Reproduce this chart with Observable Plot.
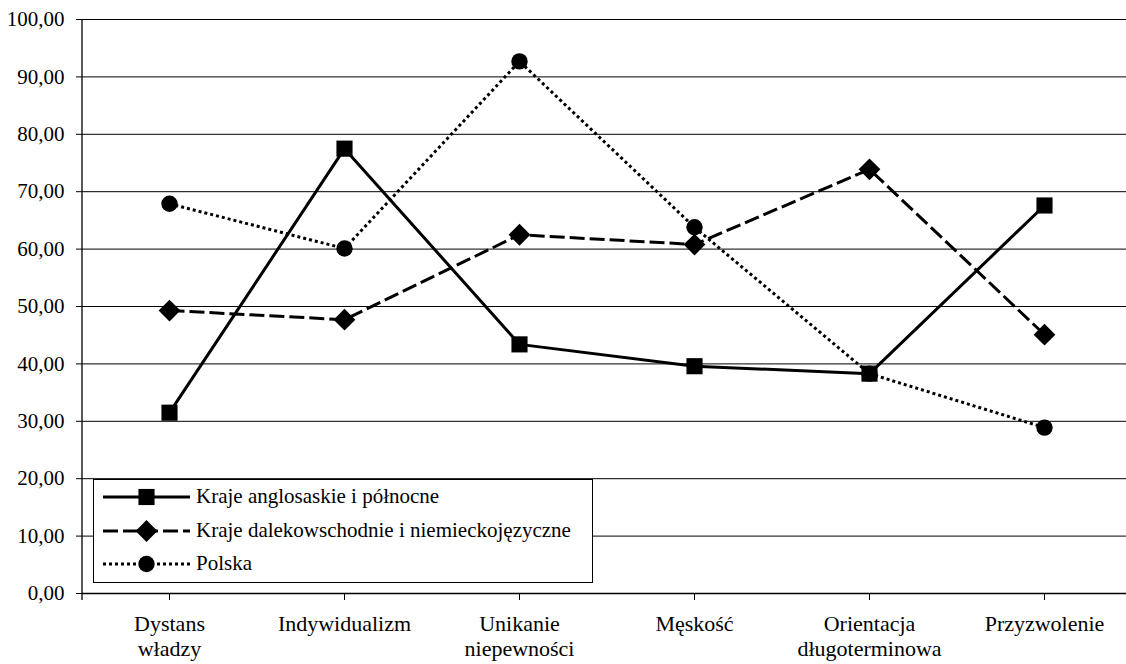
<!DOCTYPE html>
<html><head><meta charset="utf-8">
<script src="https://cdn.jsdelivr.net/npm/d3@7"></script>
<script src="https://cdn.jsdelivr.net/npm/@observablehq/plot@0.6"></script>
<style>
body{margin:0;background:#fff}
#wrap{position:relative;width:1126px;height:664px;font-family:"Liberation Serif","DejaVu Serif",serif}
#wrap svg text{font-family:"Liberation Serif","DejaVu Serif",serif}
#legend{position:absolute;left:93px;top:479px;width:500px;height:104px;border:1px solid #000;background:#fff;box-sizing:border-box}
.row{position:absolute;left:0;height:34px;width:100%}
.row svg{position:absolute;left:9px;top:0}
.row span{position:absolute;left:102px;top:4px;font-size:21px;line-height:24px;color:#000;white-space:nowrap;font-family:"Liberation Serif","DejaVu Serif",serif}
</style></head>
<body><div id="wrap"></div>
<script>
const categories = ["Dystans\nwładzy","Indywidualizm","Unikanie\nniepewności","Męskość","Orientacja\ndługoterminowa","Przyzwolenie"];
const seriesNames = ["Kraje anglosaskie i północne","Kraje dalekowschodnie i niemieckojęzyczne","Polska"];
const anglo  = [31.5,77.5,43.4,39.6,38.3,67.6];
const east   = [49.3,47.7,62.5,60.8,73.9,45.1];
const polska = [67.9,60.1,92.7,63.8,38.3,28.9];
const yTicks = [0,10,20,30,40,50,60,70,80,90,100];

const styles = [
  {values: anglo,  dash: null,   symbol: "square",   r: 9.1},
  {values: east,   dash: "15,5", symbol: "diamond2", r: 9.8},
  {values: polska, dash: "3,3",  symbol: "circle",   r: 8.2}
];

const marks = [
  Plot.ruleY(yTicks.filter(d => d > 0), {stroke: "#000", strokeWidth: 1}),
  Plot.ruleY([0], {stroke: "#000", strokeWidth: 1.3}),
  Plot.axisY({ticks: yTicks, tickSize: 6, tickPadding: 12, tickFormat: d => d.toFixed(2).replace(".", ","), fontSize: 21, label: null}),
  Plot.axisX({tickSize: 7, tickPadding: 13, fontSize: 22, label: null, lineHeight: 1.13})
];
styles.forEach((s, i) => {
  const data = categories.map((c, j) => ({cat: c, value: s.values[j]}));
  marks.push(Plot.line(data, {x: "cat", y: "value", stroke: "#000", strokeWidth: 3, strokeDasharray: s.dash, strokeLinecap: "butt"}));
  marks.push(Plot.dot(data, {x: "cat", y: "value", symbol: () => s.symbol, fill: "#000", stroke: "none", r: s.r}));
});

const plot = Plot.plot({
  width: 1126, height: 664,
  marginLeft: 82, marginRight: 0, marginTop: 19, marginBottom: 71,
  style: {fontFamily: "'Liberation Serif', 'DejaVu Serif', serif", color: "#000", background: "#fff"},
  x: {type: "point", domain: categories, range: [168, 1045], padding: 0},
  y: {domain: [0, 100], range: [593, 19]},
  symbol: {type: "identity"},
  marks
});
// vertical axis line
const ys = plot.scale("y");
d3.select(plot).append("line")
  .attr("x1", 82).attr("x2", 82)
  .attr("y1", ys.apply(100)).attr("y2", ys.apply(0) + 7)
  .attr("stroke", "#000").attr("stroke-width", 1.3);
document.getElementById("wrap").appendChild(plot);

// legend
const legend = d3.select("#wrap").append("div").attr("id", "legend");
styles.forEach((s, i) => {
  const row = legend.append("div").attr("class", "row").style("top", (i * 33.5) + "px");
  const svg = row.append("svg").attr("width", 90).attr("height", 34);
  svg.append("line").attr("x1", 0).attr("x2", 87).attr("y1", 17).attr("y2", 17)
    .attr("stroke", "#000").attr("stroke-width", 3).attr("stroke-dasharray", s.dash);
  const sym = {square: d3.symbolSquare, diamond2: d3.symbolDiamond2, circle: d3.symbolCircle}[s.symbol];
  svg.append("path").attr("d", d3.symbol(sym, Math.PI * s.r * s.r)()).attr("transform", "translate(43.5,17)").attr("fill", "#000");
  row.append("span").text(seriesNames[i]);
});
</script></body></html>
